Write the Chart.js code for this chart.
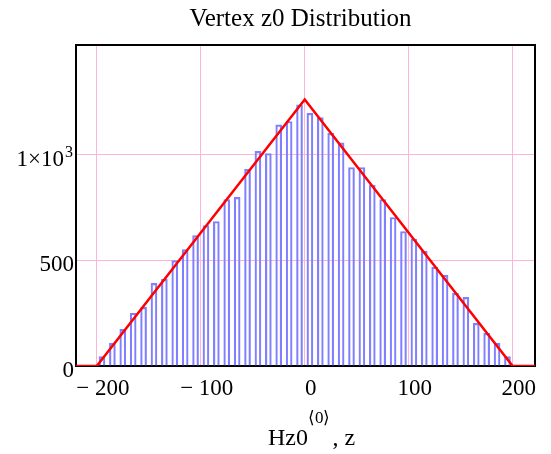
<!DOCTYPE html>
<html>
<head>
<meta charset="utf-8">
<script src="https://cdn.jsdelivr.net/npm/chart.js@4"></script>
<style>html,body{margin:0;padding:0;background:#fff}</style>
</head>
<body>
<canvas id="c" width="551" height="454"></canvas>
<script>
// histogram bins (centres) and counts
const binCenters=[-195,-185,-175,-165,-155,-145,-135,-125,-115,-105,-95,-85,-75,-65,-55,-45,-35,-25,-15,-5,
  5,15,25,35,45,55,65,75,85,95,105,115,125,135,145,155,165,175,185,195];
const counts=[44,107,173,249,277,390,409,497,550,616,663,682,786,796,928,1013,1003,1138,1154,1233,
  1192,1173,1098,1053,937,937,854,786,701,635,599,541,466,428,343,324,201,154,107,44];
// triangle fit
const fitX=[-220,-200,0,200,221.5];
const fitY=[0,0,1258,0,0];
const xTicks=[-200,-100,0,100,200];
const yTicks=[0,500,1000];
const titleText='Vertex z0 Distribution';

const serif='"Liberation Serif","Times New Roman",serif';
const pink='#ffb3d9';

const extras={
  id:'extras',
  beforeDatasetsDraw(chart){
    const {ctx,chartArea:a}=chart;
    ctx.save();ctx.strokeStyle='#000';ctx.lineWidth=2;
    ctx.strokeRect(a.left,a.top,a.right-a.left,a.bottom-a.top);
    ctx.restore();
  },
  afterDraw(chart){
    const {ctx,chartArea:a,scales}=chart;
    const cx=(a.left+a.right)/2;
    ctx.save();ctx.fillStyle='#000';ctx.textBaseline='alphabetic';
    ctx.font='25px '+serif;ctx.textAlign='center';
    ctx.fillText(titleText,cx-5,26);
    // y label 1x10^3 with a real superscript
    const yk=scales.y.getPixelForValue(1000);
    ctx.textAlign='right';
    ctx.font='16px '+serif;ctx.fillText('3',73,yk+3);
    const w3=ctx.measureText('3').width;
    ctx.font='23px '+serif;ctx.fillText('1\u00D710',73-w3-1,yk+12);
    // axis label Hz0<0>, z
    ctx.textAlign='left';
    const big='24px '+serif, small='17px '+serif;
    const p1='Hz0', p2='\u27E80\u27E9', p3=', z';
    ctx.font=big;const w1=ctx.measureText(p1).width, wc=ctx.measureText(p3).width;
    ctx.font=small;const w2=ctx.measureText(p2).width;
    let x=cx+6-(w1+w2+wc+2)/2;
    ctx.font=big;ctx.fillText(p1,x,445);x+=w1;
    ctx.font=small;ctx.fillText(p2,x,423);x+=w2+2;
    ctx.font=big;ctx.fillText(p3,x,445);
    ctx.restore();
  }
};

new Chart(document.getElementById('c'),{
  type:'bar',
  data:{datasets:[
    {type:'line',data:fitX.map((x,i)=>({x,y:fitY[i]})),borderColor:'#ff0000',borderWidth:2.5,
      pointRadius:0,tension:0,order:0},
    {type:'bar',data:binCenters.map((x,i)=>({x,y:counts[i]})),borderColor:'#8080ff',
      backgroundColor:'rgba(255,255,255,0)',borderWidth:1.5,barThickness:6,order:1}
  ]},
  options:{
    responsive:false,animation:false,
    layout:{padding:{top:45,right:16,bottom:0,left:0}},
    plugins:{legend:{display:false},tooltip:{enabled:false},title:{display:false}},
    scales:{
      x:{type:'linear',min:-220,max:221.5,offset:false,
        afterBuildTicks:s=>{s.ticks=xTicks.map(v=>({value:v}));},
        afterFit:s=>{s.height=88;},
        grid:{color:pink,lineWidth:1,drawTicks:false,offset:false},border:{display:false},
        ticks:{padding:9,labelOffset:6,color:'#000',font:{family:serif,size:23},maxRotation:0,
          callback:v=>v<0?'\u2212 '+Math.abs(v):String(v)}},
      y:{type:'linear',min:0,max:1515,
        afterBuildTicks:s=>{s.ticks=yTicks.map(v=>({value:v}));},
        afterFit:s=>{s.width=76;},
        grid:{color:pink,lineWidth:1,drawTicks:false},border:{display:false},
        ticks:{padding:2,labelOffset:5,color:'#000',font:{family:serif,size:23},
          callback:v=>v===1000?'':String(v)}}
    }
  },
  plugins:[extras]
});
</script>
</body>
</html>
